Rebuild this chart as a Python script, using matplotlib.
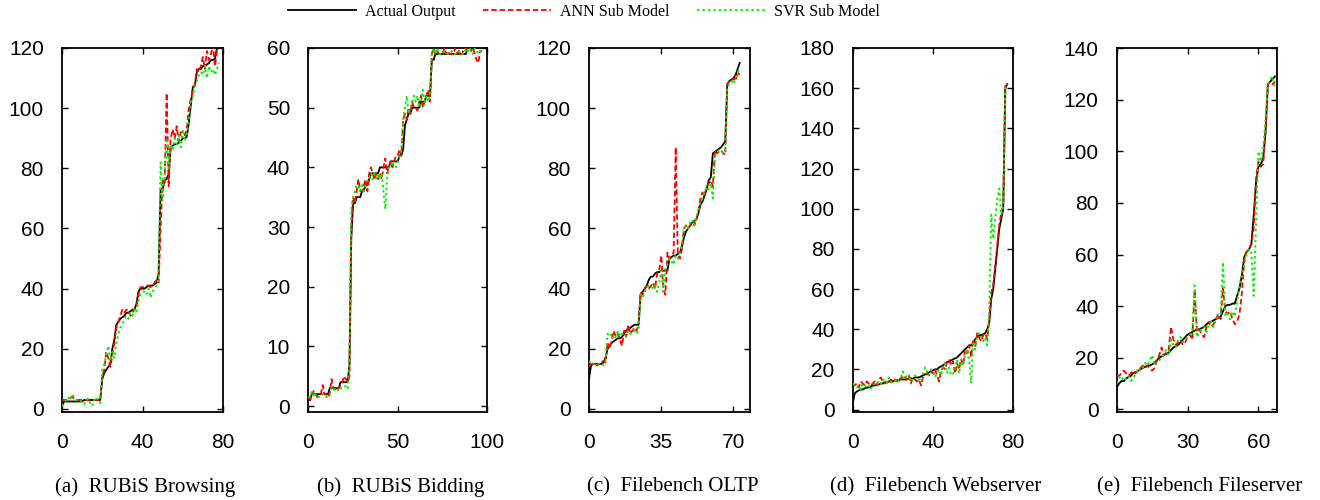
import matplotlib
matplotlib.use("Agg")
import matplotlib.pyplot as plt
from matplotlib.lines import Line2D

# ---------------- data ----------------
actual_a = [1,2.5,2.5,2.5,2.5,2.5,2.5,2.5,2.5,2.5,2.5,3,3,3,3,3,3,3,3,3,
            10,12,13,14,15,20,23,28,29,30,30.5,31,32,32,32.5,33,33,35,39,40,
            40,40,40.5,41,41,41,41.5,42,45,73,73,76,76.5,78,87,87.5,88,88,88.5,89,
            90,90,90.5,95,101,107,107.5,112,113,113,114,114,114.5,115,116,116,116.5,120,121]
ann_a = [3,3,3,3,3.5,4,3.5,3,3,3,3,3,3,3,3,3,3,3,3,3,
         11,13,19,17,14,18,22,27,29,31,33,32,33,33,31,32,33,34,38,40.5,
         40.5,40.5,41,41,40.5,41,42,43,42,60,76,75,105,74,90,93,90,94,89,92,
         92,91,93,100,103,106,108,113,112,114,117,113,119,116,118,121,114,119,120]
svr_a = [1,2,3,4,3,5,4,3,3,3,2,1.5,3,3.5,2,1,3,4,3,2,
         13,15,18,21,16,19,17,22,25,27,28,30,31,30,32,31,33,32,36,38,
         39,39,38,40,37,39,40,41,44,82,70,78,90,80,88,86,90,88,91,87,
         93,89,91,96,102,104,107,109,111,112,111,114,110,114,112,113,111,113,115]

actual_b = [1,1,2,2,2,2,2,2,2,2, 2,2,3,3,3,3,3,3,4,4,
            4,4,4,7,28,34,34,35,35,35, 36,36,37,37,38,39,39,39,39,39,
            40,40,40,40,40,40,41,41,41,41, 41,42,42,43,47,48,49,49,50,50,
            50,50,50,51,51,51,52,52,52,58, 58,59,59,59,59,59,59,59,59,59,
            59,59,59,59,59,59,59,59,59,60, 60,60,60,60,60,60,60,60]
ann_b = [1.5,1,2,2.5,2,1.5,2,2,3.5,2, 2,1.5,2,4.5,3,3,2.5,3,3.5,4,
         5,4.5,4,5,30,35,34,36,38,36, 36,37,38,36,39,40,39,38,39,38,
         39,38,40,41.5,39,40,41,40,41,42, 42,43,42,48,49,48,50,49,51,50,
         50,49.5,51,52,50,51,52,53,51,59, 60,59,59.5,59,59,59,60,59,59.5,59,
         59,59,60,59,59.5,59,59,60,60,59.5, 60,59.5,60,59,58,57.5,59.5,59.5]
svr_b = [1.5,1.5,2.5,1.5,2,2,1.5,2,2,1.5, 1.5,2,2,3,2.5,3,3,2.5,3,3,
         3,3.5,3,8,33,35,36,37,37,36, 37,36,37,38,38,39,38,39,38,39,
         38,39,36,33,38,40,40,41,40,40, 41,42,43,48,50,52,49,50,51,52,
         51,52,50,51,53,51,52,51,52,59, 60,59,60,59,59,59.5,59,59,59,59,
         59.5,59,59,59,59,59.5,59,59,60,59.5, 60,59.5,59,60,59.5,59,59.5,60]

actual_c = [10,14.5,15,15,15,15,15,15.5,17,20, 21,22,22.5,23,23.5,23.5,24,25,26,26.5,
            27,27.5,28,28,28,38,39,40,41,43, 44,44,45,45.5,45.5,46,46,46,46,50,
            50.5,51,51,51.5,52,54,57,59,60,61, 62,62.5,63,65,68,69,71,73,76,77,
            85,85.5,86,86.5,87,88,89,108,109,109.5, 110,111,113,115]
ann_c = [14,15,14.5,15,14.5,15,15.5,16,15.5,22, 20,23,26,24,25,23,21,26,24,28,
         25,26,27,26,28,39,38,40,41,40, 41,42,40,45,46,51,40,38,52,50,
         51,52,87,52,50,53,60,61,60,61, 62,61,63,66,70,72,71,74,75,76,
         74,86,85,85.5,86,85,84.5,108,109,109, 110,109,112,111]
svr_c = [16,15,15,14.5,15,15,15,14.5,16,25, 24,25,23,24,26,24,25,25,24,26,
         25,25,26,25,26,38,37,39,40,41, 41,40,41,39,42,46,39,47,48,50,
         49,48,51,50,52,55,60,61,60,62, 63,61,64,66,69,70,72,74,73,75,
         70,84,85,86,86,85,86,107,108,109, 108,110,112,113]

actual_d = [3,8,9,9.5,10,10,10.5,11,11,11.5, 12,12,12.5,12.5,13,13,13.5,13.5,14,14,
            14,14.5,14.5,14.5,15,15,15,15,15.5,15.5, 15.5,16,16,16,16.5,17,17.5,18,18.5,19,
            19.5,20,20,21,21.5,22,23,23.5,24,24.5, 25,25.5,26,27,28,29,30,31,32,32,
            33,35,36,37,37,37.5,38,40,43,55, 60,70,80,90,95,100,160,162]
ann_d = [13,12,13,11,14,13,12,14,13,12, 13,14,12,15,16,14,13,14,13,15,
         14,15,14,16,15,17,16,15,17,13, 16,15,14,15,12,16,17,18,17,19,
         18,20,17,14,19,21,20,24,25,22, 24,18,23,20,25,22,30,28,32,26,
         35,31,38,36,34,37,38,35,44,58, 62,72,82,92,98,102,161,162]
svr_d = [13,12,11,12,10,13,12,11,12,10, 12,13,14,12,13,15,14,13,16,14,
         13,14,15,14,16,19,15,17,16,14, 15,17,16,15,14,18,21,19,17,20,
         19,16,18,20,17,22,23,18,21,17, 18,20,25,18,24,22,28,30,25,13,
         34,30,37,38,36,34,36,32,50,97, 85,95,105,110,97,101,160,162]

actual_e = [8.5,10,11,11,12,12.5,13,14,14.5,15, 15.5,16,16.5,17,17,17.5,18,19,20,20.5,
            21,21.5,22,23,24,24.5,25,26,27,28, 29,29.5,30,30.5,31,31,31.5,32,33,33.5,
            34,34.5,35,35.5,36,38,40,40.5,40.5,41, 41,44,47,52,59,61,62,64,75,88,
            94,95,97,107,126,127,128,129]
ann_e = [13,13,14,15,14,13,14,15,14,15, 16,17,16,17,16,15,16,19,21,24,
         21,22,23,32,27,25,26,27,25,26, 28,29,27,46,30,31,29,28,32,34,
         32,33,35,37,35,47,38,37,38,35, 33,34,37,45,58,61,62,64,70,90,
         96,94,95,108,126,127,126,127]
svr_e = [10,12,13,11,12,13,11,12,14,16, 15,16,18,17,19,21,17,18,19,20,
         22,23,21,27,25,24,27,28,26,27, 28,29,30,48,28,30,31,32,30,33,
         34,32,35,36,37,57,36,37,35,38, 36,42,48,52,56,60,62,61,44,72,
         100,96,101,112,126,128,129,124]

captions = ["(a)  RUBiS Browsing", "(b)  RUBiS Bidding", "(c)  Filebench OLTP",
            "(d)  Filebench Webserver", "(e)  Filebench Fileserver"]
series_names = ["Actual Output", "ANN Sub Model", "SVR Sub Model"]
xticks_list = [[0, 40, 80], [0, 50, 100], [0, 35, 70], [0, 40, 80], [0, 30, 60]]
yticks_list = [list(range(0, 121, 20)), list(range(0, 61, 10)), list(range(0, 121, 20)),
               list(range(0, 181, 20)), list(range(0, 141, 20))]
xlims = [(0, 80), (0, 100), (0, 78), (0, 80), (0, 68)]
ylims = [(-1, 120), (-1, 60), (-1, 120), (-1.2, 180), (-1, 140)]

panels = [(actual_a, ann_a, svr_a), (actual_b, ann_b, svr_b), (actual_c, ann_c, svr_c),
          (actual_d, ann_d, svr_d), (actual_e, ann_e, svr_e)]

# ---------------- layout ----------------
W, H = 1320, 500
fig = plt.figure(figsize=(W / 100, H / 100), dpi=100)
lefts = [62, 308.3, 589, 852.7, 1116.7]
rights = [223, 487.3, 750, 1013.3, 1277.3]
top_px, bot_px = 48, 412

sans = ["Liberation Sans", "DejaVu Sans"]
serif = ["Liberation Serif", "DejaVu Serif"]
RED = "#ff0000"
GREEN = "#00f000"
red_ls = (0, (3, 1.6))
green_ls = (0, (1.2, 1.6))

for i, (act, ann, svr) in enumerate(panels):
    l, r = lefts[i], rights[i]
    ax = fig.add_axes([l / W, 1 - bot_px / H, (r - l) / W, (bot_px - top_px) / H])
    ax.plot(range(len(act)), act, color="black", lw=1.3, zorder=3)
    ax.plot(range(len(ann)), ann, color=RED, lw=1.3, ls=red_ls, zorder=4)
    ax.plot(range(len(svr)), svr, color=GREEN, lw=1.4, ls=green_ls, zorder=5)
    ax.set_xlim(*xlims[i])
    ax.set_ylim(*ylims[i])
    ax.set_xticks(xticks_list[i])
    ax.set_yticks(yticks_list[i])
    ax.tick_params(direction="in", length=4, width=1, top=True, right=True,
                   labelsize=15)
    ax.tick_params(axis="x", pad=15)
    ax.tick_params(axis="y", pad=13)
    for lab in ax.get_xticklabels() + ax.get_yticklabels():
        lab.set_fontfamily(sans)
    for sp in ax.spines.values():
        sp.set_linewidth(1.3)
    fig.text(((l + r) / 2 + 3) / W, 1 - 487 / H, captions[i], ha="center", va="center",
             fontsize=15, family=serif)

handles = [Line2D([], [], color="black", lw=1.3),
           Line2D([], [], color=RED, lw=1.3, ls=red_ls),
           Line2D([], [], color=GREEN, lw=1.4, ls=green_ls)]
fig.legend(handles, series_names, loc="center", bbox_to_anchor=(584 / W, 1 - 12 / H),
           ncol=3, frameon=False, prop={"family": serif, "size": 11.5},
           handlelength=4.25, handletextpad=0.6, columnspacing=1.7,
           borderpad=0, borderaxespad=0)

fig.savefig("out.png", dpi=100)
